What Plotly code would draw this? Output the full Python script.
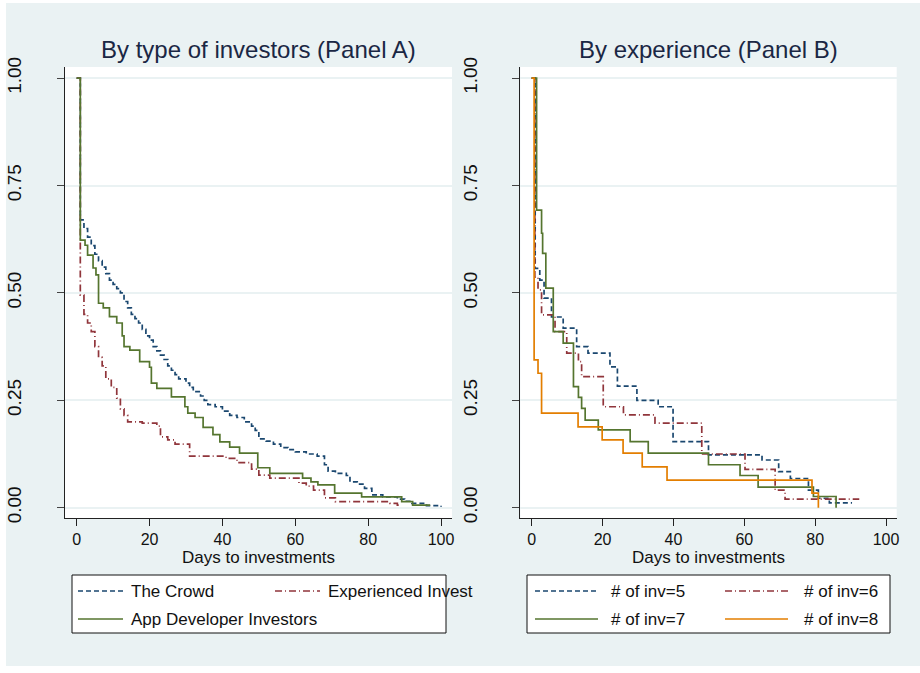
import plotly.graph_objects as go

W, H = 920, 673

# ---------------- Data ----------------
# Panel A: by type of investors
crowd_t = [0, 1, 2, 3, 4, 5, 6, 7, 8, 9, 10, 11, 12, 13, 14, 15, 16, 17, 18, 19, 20, 21, 22, 23, 24, 25, 26, 27, 28,
           30, 31, 32, 34, 35, 36, 38, 40, 42, 44, 46, 48, 49, 50, 52, 54, 56, 58, 60, 63, 66, 68, 69, 71, 74, 75, 77,
           79, 81, 84, 88, 90, 92, 96, 100]
crowd_s = [1.0, 0.67, 0.65, 0.63, 0.61, 0.59, 0.575, 0.56, 0.545, 0.53, 0.52, 0.51, 0.50, 0.48, 0.465, 0.45, 0.44,
           0.43, 0.415, 0.40, 0.39, 0.375, 0.365, 0.355, 0.345, 0.33, 0.32, 0.31, 0.30,
           0.29, 0.28, 0.27, 0.26, 0.25, 0.24, 0.235, 0.225, 0.215, 0.21, 0.20, 0.19, 0.18, 0.16, 0.155, 0.148, 0.14,
           0.135, 0.13, 0.125, 0.12, 0.10, 0.085, 0.08, 0.075, 0.06, 0.055, 0.045, 0.03, 0.025, 0.02, 0.015, 0.01,
           0.005, 0.002]

exper_t = [0, 1, 2, 3, 4, 5, 6, 7, 8, 9.5, 11, 12, 13, 14, 18, 22, 23, 25, 27, 31, 41, 44, 48, 50, 53, 61, 63, 65,
           68, 71, 86, 88, 89]
exper_s = [1.0, 0.495, 0.45, 0.43, 0.41, 0.375, 0.35, 0.33, 0.30, 0.28, 0.255, 0.23, 0.215, 0.20, 0.197, 0.19,
           0.165, 0.158, 0.148, 0.12, 0.115, 0.105, 0.09, 0.076, 0.069, 0.057, 0.05, 0.041, 0.023, 0.014, 0.01,
           0.006, 0.006]

appdev_t = [0, 1, 2.3, 3, 4.5, 5.3, 6, 7.3, 9, 11, 12.5, 13, 14.6, 17.3, 20, 20.5, 22, 26, 29.7, 30.5, 32.5, 34.7,
            37.4, 39.3, 42, 44.7, 49.7, 53, 62, 64.3, 66.2, 70.8, 78.2, 89.2, 92.2, 97]
appdev_s = [1.0, 0.623, 0.611, 0.588, 0.558, 0.542, 0.476, 0.465, 0.445, 0.43, 0.40, 0.375, 0.367, 0.34, 0.327,
            0.29, 0.278, 0.258, 0.235, 0.22, 0.21, 0.187, 0.17, 0.153, 0.141, 0.127, 0.093, 0.08, 0.069, 0.06,
            0.053, 0.034, 0.025, 0.014, 0.006, 0.006]

# Panel B: by experience (# of investments)
inv5_t = [0, 1, 2.3, 3.5, 5.6, 8.9, 12.7, 15.9, 22.1, 24.2, 29.7, 35.7, 39.9, 49.9, 65, 69.7, 73, 78.1, 80.9, 84,
          90.4]
inv5_s = [1.0, 0.557, 0.53, 0.488, 0.444, 0.418, 0.375, 0.36, 0.328, 0.283, 0.25, 0.235, 0.154, 0.123, 0.111,
          0.084, 0.068, 0.041, 0.022, 0.011, 0.011]

inv6_t = [0, 0.9, 1.8, 2.8, 6.6, 9.9, 13.2, 14.1, 20.2, 25.9, 34.8, 48, 60.2, 68.7, 71.5, 92.2]
inv6_s = [1.0, 0.537, 0.507, 0.449, 0.41, 0.36, 0.34, 0.305, 0.235, 0.216, 0.197, 0.125, 0.089, 0.041, 0.02, 0.018]

inv7_t = [0, 1.4, 2.8, 3.1, 4.0, 6.1, 8.9, 11.8, 13.2, 14.1, 15.1, 18.8, 27.8, 32.9, 49.9, 58.8, 63.9, 79.5, 85.9]
inv7_s = [1.0, 0.693, 0.639, 0.592, 0.511, 0.41, 0.383, 0.282, 0.257, 0.231, 0.204, 0.181, 0.154, 0.127, 0.1,
          0.075, 0.048, 0.026, 0.0]

inv8_t = [0, 0.7, 1.8, 2.8, 13.1, 19.9, 25.8, 31.2, 38.2, 79.1, 80.9]
inv8_s = [1.0, 0.344, 0.313, 0.22, 0.188, 0.158, 0.127, 0.095, 0.064, 0.034, 0.0]

x_ticks = [0, 20, 40, 60, 80, 100]
y_ticks = [0, 0.25, 0.5, 0.75, 1.0]
y_ticklabels = ["0.00", "0.25", "0.50", "0.75", "1.00"]

titles = ["By type of investors (Panel A)", "By experience (Panel B)"]
x_title = "Days to investments"
legend_a = ["The Crowd", "Experienced Invest", "App Developer Investors"]
legend_b = ["# of inv=5", "# of inv=6", "# of inv=7", "# of inv=8"]

# ---------------- Styles ----------------
BLUE, RED, GREEN, ORANGE = "#1a476f", "#90353b", "#55752f", "#e37e00"
BG = "#eaf2f3"
FONT = "Arial, Liberation Sans, sans-serif"
DASH_BLUE = "5px,3px"
DASH_RED = "7px,3px,1px,3px"
LW = 1.7


def px2x(p):
    return p / W


def py2y(p):
    return 1 - p / H


fig = go.Figure()

series_a = [(crowd_t, crowd_s, BLUE, DASH_BLUE), (exper_t, exper_s, RED, DASH_RED),
            (appdev_t, appdev_s, GREEN, "solid")]
series_b = [(inv5_t, inv5_s, BLUE, DASH_BLUE), (inv6_t, inv6_s, RED, DASH_RED),
            (inv7_t, inv7_s, GREEN, "solid"), (inv8_t, inv8_s, ORANGE, "solid")]

for t, s, c, d in series_a:
    fig.add_trace(go.Scatter(x=t, y=s, mode="lines", line=dict(color=c, width=LW, dash=d, shape="hv"),
                             xaxis="x", yaxis="y", showlegend=False, hoverinfo="skip"))
for t, s, c, d in series_b:
    fig.add_trace(go.Scatter(x=t, y=s, mode="lines", line=dict(color=c, width=LW, dash=d, shape="hv"),
                             xaxis="x2", yaxis="y2", showlegend=False, hoverinfo="skip"))

ydom = [py2y(518), py2y(67)]
xdomA = [px2x(65), px2x(452)]
xdomB = [px2x(520.3), px2x(896.7)]

xcommon = dict(range=[-3.2, 103], tickvals=x_ticks, ticks="outside", ticklen=7, tickcolor="#222",
               showline=True, linecolor="#222", linewidth=1, showgrid=False, zeroline=False, automargin=False,
               tickfont=dict(family=FONT, size=16, color="#111"), fixedrange=True)
ycommon = dict(range=[-0.024, 1.026], tickvals=y_ticks, ticktext=y_ticklabels, ticks="outside", ticklen=7,
               tickcolor="#444", showline=True, linecolor="#222", linewidth=1, showgrid=True, gridcolor=BG,
               gridwidth=1.5, zeroline=False, tickangle=-90, ticklabelstandoff=28, automargin=False,
               tickfont=dict(family=FONT, size=19, color="#111"), fixedrange=True, domain=ydom)

fig.update_layout(
    template="none",
    width=W, height=H, autosize=False,
    margin=dict(l=0, r=0, t=0, b=0, pad=0),
    paper_bgcolor=BG, plot_bgcolor="white",
    showlegend=False,
    font=dict(family=FONT),
    xaxis=dict(domain=xdomA, anchor="y", **xcommon),
    yaxis=dict(anchor="x", **ycommon),
    xaxis2=dict(domain=xdomB, anchor="y2", **xcommon),
    yaxis2=dict(anchor="x2", **ycommon),
)

shapes = []
annotations = []

# white outer frame strips
for (x0, y0, x1, y1) in [(0, 0, 6, H), (0, 0, W, 3), (0, 666, W, H)]:
    shapes.append(dict(type="rect", xref="paper", yref="paper", x0=px2x(x0), x1=px2x(x1), y0=py2y(y1),
                       y1=py2y(y0), fillcolor="white", line=dict(width=0), layer="above"))

# titles and axis titles
for title, dom in zip(titles, [xdomA, xdomB]):
    cx = (dom[0] + dom[1]) / 2
    annotations.append(dict(text=title, x=cx, y=py2y(50), xref="paper", yref="paper", showarrow=False,
                            xanchor="center", yanchor="middle",
                            font=dict(family=FONT, size=24, color="#1a2744")))
    annotations.append(dict(text=x_title, x=cx, y=py2y(557), xref="paper", yref="paper", showarrow=False,
                            xanchor="center", yanchor="middle", font=dict(family=FONT, size=17, color="#111")))

# legend boxes
for (x0, x1) in [(72, 446), (527, 890)]:
    shapes.append(dict(type="rect", xref="paper", yref="paper", x0=px2x(x0), x1=px2x(x1), y0=py2y(633),
                       y1=py2y(575), fillcolor="white", line=dict(color="#111", width=1), layer="above"))


def legend_entry(xs0, xs1, xt, yrow, color, dash, label):
    shapes.append(dict(type="line", xref="paper", yref="paper", x0=px2x(xs0), x1=px2x(xs1), y0=py2y(yrow),
                       y1=py2y(yrow), line=dict(color=color, width=LW, dash=dash), layer="above"))
    annotations.append(dict(text=label, x=px2x(xt), y=py2y(yrow), xref="paper", yref="paper", showarrow=False,
                            xanchor="left", yanchor="middle", font=dict(family=FONT, size=17, color="#111")))


legend_entry(78, 123, 129, 591, BLUE, DASH_BLUE, legend_a[0])
legend_entry(275, 320, 326, 591, RED, DASH_RED, legend_a[1])
legend_entry(78, 123, 129, 619, GREEN, "solid", legend_a[2])

legend_entry(535, 598, 609, 591, BLUE, DASH_BLUE, legend_b[0])
legend_entry(725, 788, 802, 591, RED, DASH_RED, legend_b[1])
legend_entry(535, 598, 609, 619, GREEN, "solid", legend_b[2])
legend_entry(725, 788, 802, 619, ORANGE, "solid", legend_b[3])

fig.update_layout(shapes=shapes, annotations=annotations)

fig.write_html("out.html", config={"displayModeBar": False, "staticPlot": False},
               post_script="document.body.style.margin='0';document.body.style.overflow='hidden';")
